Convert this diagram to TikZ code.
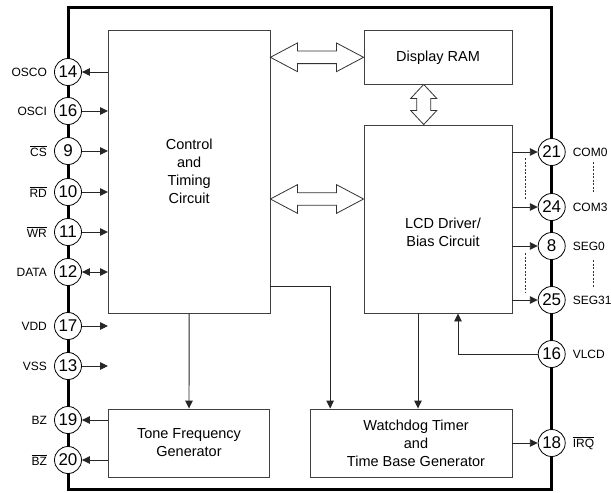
\documentclass[tikz,border=0pt]{standalone}
\usepackage{fontspec}
\setsansfont{Liberation Sans}
\usetikzlibrary{positioning, calc, arrows.meta}

\newcommand{\ovl}[1]{$\overline{\mbox{#1}}$}

%% horizontal and vertical hollow bus arrows
\newcommand{\hbus}[2]{%
  \draw[busarrow] (#1) -- ($(#1)+(27,-14.3)$) -- ($(#1)+(27,-6.3)$)
    -- ($(#2)+(-27,-6.3)$) -- ($(#2)+(-27,-14.3)$) -- (#2)
    -- ($(#2)+(-27,14.3)$) -- ($(#2)+(-27,6.3)$)
    -- ($(#1)+(27,6.3)$) -- ($(#1)+(27,14.3)$) -- cycle;}
\newcommand{\vbus}[2]{%
  \draw[busarrow] (#1) -- ($(#1)+(-13,14)$) -- ($(#1)+(-7,14)$)
    -- ($(#2)+(-7,-14)$) -- ($(#2)+(-13,-14)$) -- (#2)
    -- ($(#2)+(13,-14)$) -- ($(#2)+(7,-14)$)
    -- ($(#1)+(7,14)$) -- ($(#1)+(13,14)$) -- cycle;}

\begin{document}
\begin{tikzpicture}[
    x=1pt, y=-1pt,
    every node/.style={font=\sffamily},
    blockbox/.style={
        rectangle, draw=black!75, line width=0.9pt,
        fill=white, inner sep=0pt, align=center,
        font=\fontsize{14.5}{18}\selectfont\sffamily
    },
    blocktxt/.style={align=center, inner sep=0pt,
        font=\fontsize{14.5}{18}\selectfont\sffamily},
    pin/.style={circle, draw=black, line width=0.8pt, fill=white,
        minimum size=27pt, inner sep=0pt,
        font=\fontsize{17}{17}\selectfont\sffamily},
    pinlbl/.style={font=\fontsize{12}{12}\selectfont\sffamily,
        inner sep=2pt, label distance=5pt},
    sig/.style={-{Triangle[length=8pt,width=7.5pt]}, line width=0.9pt, black!85},
    dsig/.style={{Triangle[length=8pt,width=7.5pt]}-{Triangle[length=8pt,width=7.5pt]},
        line width=0.9pt, black!85},
    busarrow/.style={draw=black!80, line width=0.8pt, fill=white},
    dotline/.style={black!80, line width=0.6pt, dash pattern=on 2pt off 1.5pt},
    frame/.style={line width=3pt, black}
]
\useasboundingbox (0,0) rectangle (611,493);

%% ── Chip outline ───────────────────────────────────────────────────
\draw[frame] (68,7) rectangle (551.7,489);

%% ── Blocks ─────────────────────────────────────────────────────────
\node[blockbox, minimum width=161.5pt, minimum height=282.3pt]
    (ctrl) at (189.2,171.8) {Control\\and\\Timing\\Circuit};
\node[blockbox, minimum width=148pt, minimum height=53.3pt]
    (ram) at (438,57.3) {Display RAM};
\node[blockbox, minimum width=148pt, minimum height=188pt]
    (lcd) at (438,219) {};
\node[blocktxt] (lcdtxt) at (443,232.5) {LCD Driver/\\Bias Circuit};
\node[blockbox, minimum width=161pt, minimum height=68pt]
    (tone) at (189,443) {Tone Frequency\\Generator};
\node[blockbox, minimum width=202pt, minimum height=68pt]
    (wdt) at (411,443) {};
\node[blocktxt] (wdttxt) at (416,443) {Watchdog Timer\\and\\Time Base Generator};

%% ── Pins ───────────────────────────────────────────────────────────
\foreach \id/\yy/\num/\lbl in {osco/72/14/OSCO, osci/111/16/OSCI,
        cs/151/9/{\ovl{CS}}, rd/192/10/{\ovl{RD}}, wr/232/11/{\ovl{WR}},
        data/272/12/DATA, vdd/326/17/VDD, vss/366/13/VSS,
        bz/420/19/BZ, bzb/460/20/{\ovl{BZ}}}
    \node[pin, label={[pinlbl]left:\lbl}] (\id) at (68,\yy) {\num};

\foreach \id/\yy/\num/\lbl in {com0/152/21/COM0, com3/207/24/COM3,
        seg0/246/8/SEG0, seg31/300/25/SEG31, vlcd/354/16/VLCD,
        irq/443/18/{\ovl{IRQ}}}
    \node[pin, label={[pinlbl]right:\lbl}] (\id) at (551.7,\yy) {\num};

%% ── Left side signals ─────────────────────────────────────────────
\draw[sig] (ctrl.west |- osco) -- (osco);
\foreach \id in {osci, cs, rd, wr}
    \draw[sig] (\id) -- (ctrl.west |- \id);
\draw[dsig] (data) -- (ctrl.west |- data);
\draw[sig] (vdd) -- (ctrl.west |- vdd);
\draw[sig] (vss) -- (ctrl.west |- vss);
\draw[sig] (tone.west |- bz) -- (bz);
\draw[sig] (tone.west |- bzb) -- (bzb);

%% ── Right side signals ────────────────────────────────────────────
\foreach \id in {com0, com3, seg0, seg31}
    \draw[sig] (lcd.east |- \id) -- (\id);
\draw[sig] (vlcd) -| ($(lcd.south)+(20,0)$);
\draw[sig] (wdt.east |- irq) -- (irq);

\draw[dotline] ($(com0.west)+(-12.5,6)$) -- ($(com3.west)+(-12.5,-8)$);
\draw[dotline] ($(com0)+(41.3,10)$) -- ($(com3)+(41.3,-15)$);
\draw[dotline] ($(seg0.west)+(-12.5,7)$) -- ($(seg31.west)+(-12.5,-7)$);
\draw[dotline] ($(seg0)+(41.3,14)$) -- ($(seg31)+(41.3,-13)$);

%% ── Internal connections ──────────────────────────────────────────
\draw[sig] (ctrl.south) -- (tone.north);
\draw[sig] ($(ctrl.south east)+(0,-27)$) -| ($(wdt.north west)+(20.6,0)$);
\draw[sig] ($(lcd.south)+(-20,0)$) coordinate (lcdout) -- (lcdout |- wdt.north);

%% ── Bus arrows ────────────────────────────────────────────────────
\coordinate (busA) at (ctrl.east |- ram.west);
\coordinate (busB) at (ctrl.east |- 0,199);
\coordinate (busC) at (lcd.west |- 0,199);
\coordinate (busD) at (ram.south -| 423.7,0);
\coordinate (busE) at (lcd.north -| 423.7,0);
\hbus{busA}{ram.west}
\hbus{busB}{busC}
\vbus{busD}{busE}

\end{tikzpicture}
\end{document}
